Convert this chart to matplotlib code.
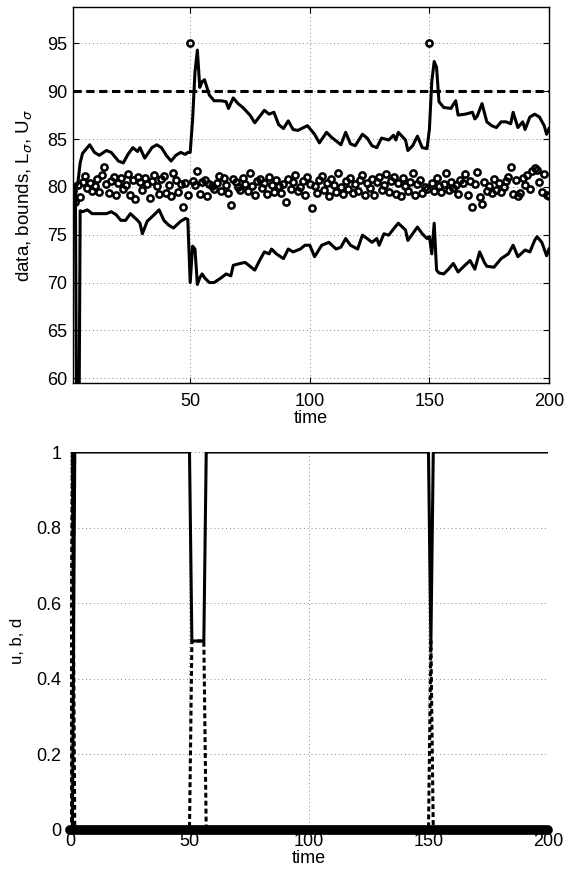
import numpy as np
import matplotlib
matplotlib.use("Agg")
import matplotlib.pyplot as plt

plt.rcParams["font.family"] = ["Liberation Sans", "DejaVu Sans"]
plt.rcParams["font.size"] = 13

# measurements (t = 1..200), two outliers at 50 and 150
data = [
    79.6, 78.4, 80.2, 78.9, 80.5, 81.1, 79.9, 80.4, 79.6, 80.1,
    80.8, 79.5, 81.2, 82.1, 80.3, 79.4, 80.6, 81.0, 79.2, 80.4,
    80.9, 79.8, 80.2, 81.3, 79.1, 80.7, 78.7, 81.0, 80.5, 79.7,
    80.9, 80.3, 78.8, 80.6, 81.2, 80.1, 79.3, 80.8, 81.1, 79.4,
    80.2, 79.0, 81.5, 80.7, 79.5, 80.3, 77.9, 80.4, 79.1, 95.0,
    80.6, 80.2, 81.7, 79.3, 80.5, 80.7, 79.0, 80.3, 80.1, 79.8,
    80.4, 81.1, 79.6, 80.9, 80.2, 79.4, 78.1, 80.8, 80.5, 80.0,
    79.7, 80.9, 80.3, 79.6, 81.4, 80.1, 79.2, 80.6, 80.8, 79.9,
    80.4, 79.3, 81.0, 80.2, 79.5, 80.7, 80.1, 79.4, 80.3, 78.4,
    80.8, 79.8, 80.5, 81.2, 79.6, 80.0, 80.6, 79.2, 81.0, 80.3,
    77.8, 80.1, 79.4, 80.7, 81.1, 79.7, 80.4, 79.0, 80.8, 80.2,
    79.5, 81.5, 80.0, 79.3, 80.6, 79.8, 80.9, 79.4, 80.3, 79.6,
    80.7, 81.2, 79.1, 80.4, 79.9, 80.8, 79.2, 80.5, 81.0, 79.7,
    80.2, 81.3, 79.5, 80.6, 81.0, 79.3, 80.4, 79.0, 80.9, 80.1,
    79.6, 80.5, 81.5, 79.2, 80.3, 80.7, 79.4, 80.0, 79.8, 95.0,
    80.4, 79.6, 80.9, 80.1, 79.5, 80.3, 81.5, 79.7, 80.5, 79.9,
    80.2, 79.3, 80.7, 80.4, 81.3, 79.1, 80.6, 77.9, 80.3, 81.6,
    78.9, 78.2, 80.5, 79.6, 80.1, 79.4, 80.8, 79.7, 80.4, 79.5,
    80.0, 80.6, 81.0, 82.1, 79.3, 80.7, 79.0, 79.4, 80.9, 80.2,
    81.2, 79.8, 81.7, 82.0, 81.8, 80.5, 79.5, 81.3, 79.2, 79.0,
]
time = np.arange(1, len(data) + 1)

# upper bound U_sigma
upper_t = [1, 2, 3, 4, 5, 6, 8, 10, 12, 15, 17, 20, 22, 24, 26, 28, 29, 31, 34, 36,
           38, 40, 42, 44, 46, 48, 49, 50, 51, 52, 53, 54, 55, 56, 58, 60, 63, 65, 66, 68,
           70, 72, 75, 77, 81, 83, 85, 87, 89, 91, 93, 95, 99, 102, 104, 107, 109, 112, 113, 115,
           117, 119, 122, 124, 126, 128, 130, 133, 135, 136, 137, 140, 141, 143, 145, 147, 149, 150, 151, 152,
           153, 154, 156, 159, 161, 162, 165, 168, 169, 170, 172, 174, 176, 178, 180, 182, 184, 185, 187, 189,
           190, 192, 194, 196, 198, 199, 200]
upper = [79.6, 79.9, 80.3, 82.5, 83.5, 83.8, 84.4, 83.6, 83.3, 83.8, 83.6, 82.7, 82.5, 83.4, 84.1, 83.7, 84.1, 83.0, 84.1, 84.4,
         84.1, 83.3, 82.7, 83.3, 83.6, 83.4, 83.6, 83.6, 87.0, 92.0, 94.3, 90.4, 91.0, 91.2, 89.6, 89.0, 89.0, 88.9, 88.2, 89.3,
         88.7, 88.3, 87.5, 86.7, 88.0, 87.6, 87.8, 86.5, 86.1, 86.9, 86.0, 85.9, 86.4, 85.5, 84.6, 85.7, 85.2, 84.6, 84.4, 85.7,
         84.5, 84.3, 85.5, 85.1, 84.3, 84.1, 85.1, 84.9, 85.4, 84.9, 85.7, 84.9, 83.8, 84.3, 85.3, 84.1, 84.0, 86.0, 91.0, 93.1,
         92.5, 88.9, 88.3, 88.2, 89.0, 87.5, 87.6, 87.8, 87.1, 87.4, 88.7, 86.8, 86.4, 86.2, 86.8, 86.8, 86.6, 87.8, 86.2, 86.8,
         86.0, 87.3, 87.6, 87.3, 86.4, 85.5, 86.1]

# lower bound L_sigma
lower_t = [1, 2, 3, 4, 5, 7, 9, 12, 15, 17, 19, 21, 23, 25, 28, 29, 30, 32, 35, 37,
           39, 41, 43, 46, 48, 49, 50, 51, 52, 53, 54, 55, 56, 58, 60, 63, 65, 67, 68, 71,
           73, 75, 77, 79, 81, 83, 84, 86, 89, 91, 93, 96, 98, 100, 102, 105, 108, 111, 113, 115,
           117, 120, 122, 124, 126, 128, 129, 131, 133, 135, 137, 140, 141, 143, 145, 147, 149, 150, 151, 152,
           153, 154, 156, 158, 160, 162, 164, 167, 169, 171, 173, 174, 177, 180, 183, 185, 187, 190, 192, 194,
           195, 197, 199, 200]
lower = [80.0, 80.3, 30.0, 77.5, 77.4, 77.6, 77.2, 77.2, 77.2, 77.4, 77.1, 76.5, 76.5, 77.2, 76.5, 76.2, 75.1, 76.4, 77.1, 77.6,
         76.5, 76.0, 75.7, 76.4, 76.7, 76.6, 70.0, 73.8, 73.5, 69.8, 70.5, 70.9, 70.5, 70.0, 70.0, 70.5, 70.9, 70.7, 71.8, 72.0,
         72.1, 71.7, 71.3, 72.3, 73.2, 73.0, 73.5, 73.0, 72.5, 73.5, 73.2, 73.5, 73.9, 73.9, 72.7, 73.9, 74.2, 73.5, 73.7, 74.6,
         73.9, 73.5, 74.95, 74.6, 74.2, 74.6, 73.9, 75.1, 74.95, 75.6, 76.2, 75.5, 74.4, 75.1, 75.8, 75.1, 74.6, 74.8, 73.0, 76.2,
         71.3, 71.0, 70.9, 71.4, 72.0, 71.1, 71.6, 72.3, 71.4, 73.2, 72.1, 71.7, 71.6, 72.5, 73.0, 73.9, 72.7, 73.4, 73.2, 74.4,
         74.8, 74.2, 72.8, 73.5]

threshold = 90

# bottom panel: u (solid), b (dashed), d (thick, zero)
u_t = [0, 1, 2, 50, 51, 56, 57, 150, 151, 152, 200]
u = [0, 0, 1, 1, 0.5, 0.5, 1, 1, 0.49, 1, 1]
b_t = [0, 1, 2, 50, 51, 56, 57, 150, 151, 152, 200]
b = [0, 1, 0, 0, 0.5, 0.5, 0, 0, 0.5, 0, 0]
d_t = [0, 200]
d = [0, 0]

fig = plt.figure(figsize=(5.64, 8.77), dpi=100)
ax1 = fig.add_axes([0.1294, 0.5633, 0.8440, 0.4287])
ax2 = fig.add_axes([0.1241, 0.0536, 0.8475, 0.4310])

grid_kw = dict(color="#888888", linestyle=(0, (1, 3)), linewidth=0.7)

# --- top panel ---
ax1.plot(upper_t, upper, color="black", linewidth=2.2)
ax1.plot(lower_t, lower, color="black", linewidth=2.2)
ax1.axhline(threshold, color="black", linestyle=(0, (2.7, 1.5)), linewidth=2.2)
ax1.plot(time, data, "o", markerfacecolor="none", markeredgecolor="black",
         markersize=4.5, markeredgewidth=1.8)
ax1.set_xlim(1, 200)
ax1.set_ylim(59.5, 98.8)
ax1.set_xticks([50, 100, 150, 200])
ax1.set_yticks([60, 65, 70, 75, 80, 85, 90, 95])
ax1.grid(True, **grid_kw)
ax1.set_axisbelow(True)
ax1.tick_params(direction="in", top=True, right=True, length=4, labelsize=13)
ax1.tick_params(axis="x", pad=7)
ax1.tick_params(axis="y", pad=4)
ax1.set_xlabel("time", labelpad=0)
ax1.set_ylabel(r"data, bounds, L$_\sigma$, U$_\sigma$", fontsize=13.5, labelpad=9)
for s in ax1.spines.values():
    s.set_linewidth(1.0)

# --- bottom panel ---
ax2.plot(b_t, b, color="black", linestyle=(0, (1.6, 1.0)), linewidth=2.2)
ax2.plot(u_t, u, color="black", linewidth=2.2)
ax2.plot(d_t, d, color="black", linewidth=7, solid_capstyle="round", clip_on=False)
ax2.set_xlim(0, 200)
ax2.set_ylim(0, 1)
ax2.set_xticks([0, 50, 100, 150, 200])
ax2.set_yticks([0, 0.2, 0.4, 0.6, 0.8, 1])
ax2.set_yticklabels(["0", "0.2", "0.4", "0.6", "0.8", "1"])
ax2.grid(True, **grid_kw)
ax2.set_axisbelow(True)
for s in ax2.spines.values():
    s.set_visible(False)
ax2.tick_params(length=0, labelsize=13)
ax2.tick_params(axis="x", pad=2)
ax2.tick_params(axis="y", pad=6)
ax2.set_xlabel("time", labelpad=0)
ax2.set_ylabel("u, b, d", fontsize=12, labelpad=8)

fig.savefig("out.png", dpi=100)
